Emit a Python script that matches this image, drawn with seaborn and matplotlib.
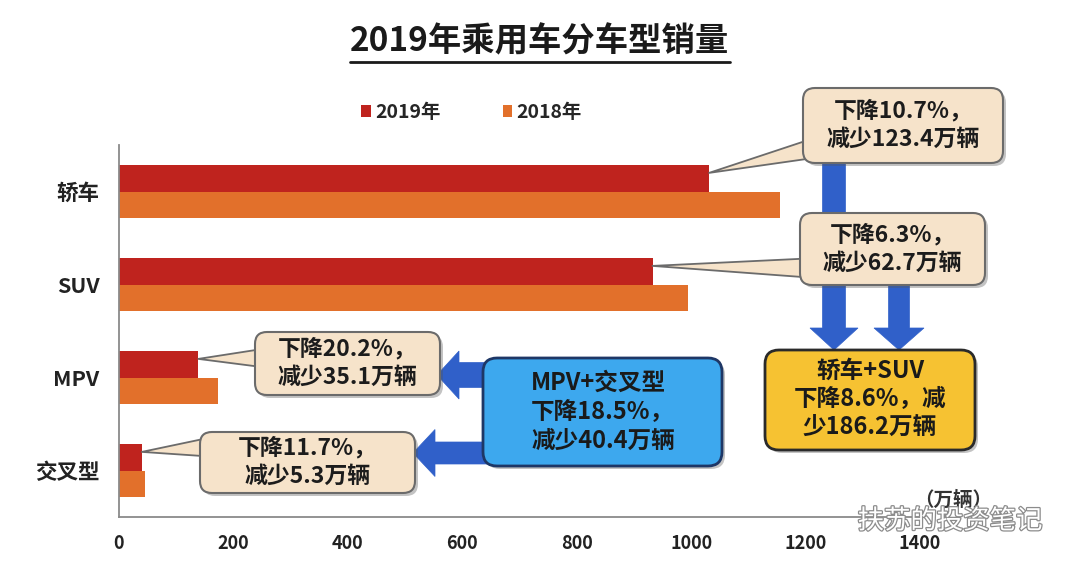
import matplotlib
matplotlib.use("Agg")
import matplotlib.pyplot as plt
import matplotlib.patheffects as pe
from matplotlib.patches import FancyBboxPatch, FancyArrow
from matplotlib.lines import Line2D
import seaborn as sns
import pandas as pd

# ---------------- data ----------------
categories = ["轿车", "SUV", "MPV", "交叉型"]
years = ["2019年", "2018年"]
sales_2019 = [1031.3, 932.5, 138.7, 40.0]
sales_2018 = [1154.7, 995.2, 173.8, 45.3]
x_ticks = [0, 200, 400, 600, 800, 1000, 1200, 1400]
callout_texts = ["下降10.7%，\n减少123.4万辆", "下降6.3%，\n减少62.7万辆",
                 "下降20.2%，\n减少35.1万辆", "下降11.7%，\n减少5.3万辆"]
blue_text = "MPV+交叉型\n下降18.5%，\n减少40.4万辆"
yellow_text = "轿车+SUV\n下降8.6%，减\n少186.2万辆"
title = "2019年乘用车分车型销量"
unit = "（万辆）"
watermark = "扶苏的投资笔记"

df = pd.DataFrame({
    "车型": categories * 2,
    "销量": sales_2019 + sales_2018,
    "年份": [years[0]] * 4 + [years[1]] * 4,
})

sns.set_theme(style="white")
plt.rcParams["font.family"] = ["Noto Sans CJK SC", "DejaVu Sans"]

W, H = 1080, 567
fig = plt.figure(figsize=(W / 100, H / 100), dpi=100)
ax = fig.add_axes([119 / W, 1 - 517 / H, (920 - 119) / W, (517 - 145) / H])

RED = "#BF231E"
ORANGE = "#E2702B"
sns.barplot(data=df, y="车型", x="销量", hue="年份", orient="h",
            palette=[RED, ORANGE], width=0.57, saturation=1, linewidth=0,
            edgecolor="none", ax=ax)

ax.set_xlim(0, 1400)
ax.set_ylim(3.5, -0.5)
ax.set_xlabel("")
ax.set_ylabel("")
ax.set_xticks(x_ticks)
ax.set_xticklabels([str(t) for t in x_ticks], fontsize=13, fontweight="bold", color="#222222")
ax.set_yticks(range(len(categories)))
ax.set_yticklabels(categories, fontsize=15.5, fontweight="bold", color="#222222")
ax.set_yticks([-0.5, 0.5, 1.5, 2.5, 3.5], minor=True)
ax.tick_params(axis="y", which="major", length=0, pad=14)
ax.tick_params(axis="y", which="minor", direction="in", length=6, color="#808080")
ax.tick_params(axis="x", which="major", direction="in", length=6, color="#808080", pad=12)
for s in ["top", "right"]:
    ax.spines[s].set_visible(False)
for s in ["left", "bottom"]:
    ax.spines[s].set_color("#8a8a8a")
    ax.spines[s].set_linewidth(1.3)

sns.move_legend(ax, "lower center", bbox_to_anchor=(0.44, 1.015), ncol=2, frameon=False,
                title=None, handlelength=0.5, handleheight=0.5, handletextpad=0.2,
                columnspacing=3.2, prop={"size": 14, "weight": "bold"})

# ---------------- helpers (pixel coords, y from top) ----------------
T = fig.dpi_scale_trans


def P(x, y):
    return (x / 100, (H - y) / 100)


def box(x0, y0, x1, y1, fc, ec, lw=1.5, r=0.12, z=3):
    sh = FancyBboxPatch(P(x0 + 3, y1 + 3), (x1 - x0) / 100, (y1 - y0) / 100,
                        boxstyle=f"round,pad=0,rounding_size={r}", transform=T,
                        fc="#555555", ec="none", alpha=0.35, zorder=z - 0.5)
    b = FancyBboxPatch(P(x0, y1), (x1 - x0) / 100, (y1 - y0) / 100,
                       boxstyle=f"round,pad=0,rounding_size={r}", transform=T,
                       fc=fc, ec=ec, lw=lw, zorder=z)
    fig.add_artist(sh)
    fig.add_artist(b)


def arrow(x0, y0, x1, y1, w, hw, hl, color="#3060C9"):
    a = FancyArrow(x0 / 100, (H - y0) / 100, (x1 - x0) / 100, -(y1 - y0) / 100,
                   width=w / 100, head_width=hw / 100, head_length=hl / 100,
                   length_includes_head=True, transform=T, fc=color, ec=color,
                   lw=0.5, zorder=2)
    fig.add_artist(a)


# ---------------- title ----------------
t = fig.text(0.5, 1 - 42 / H, title, ha="center", va="center", fontsize=24,
             fontweight="bold", color="#1a1a1a")
fig.canvas.draw()
bb = t.get_window_extent()
fig.add_artist(Line2D([bb.x0 / W, bb.x1 / W], [(bb.y0 - 3) / H, (bb.y0 - 3) / H],
                      transform=fig.transFigure, color="#1a1a1a", lw=2))

# ---------------- blue arrows ----------------
arrow(834, 160, 834, 350, 23, 48, 22)
arrow(899, 282, 899, 350, 21, 50, 22)
arrow(487, 375, 437, 375, 25, 48, 22)
arrow(487, 453, 413, 453, 22, 47, 22)

# ---------------- callouts ----------------
BEIGE = "#F6E3CA"
EDGE = "#6B6B6B"
callout_boxes = [(803, 88, 1003, 163), (800, 213, 985, 285),
                 (255, 332, 440, 395), (200, 432, 415, 493)]
wedge_base = [(815, 148), (812, 268), (267, 358), (212, 447)]
bar_vals = sales_2019
for i, ((x0, y0, x1, y1), (bx, by), txt) in enumerate(zip(callout_boxes, wedge_base, callout_texts)):
    ax.annotate("", xy=(bar_vals[i], i - 0.2), xycoords="data",
                xytext=(bx, H - by), textcoords="figure pixels",
                arrowprops=dict(arrowstyle="wedge,tail_width=0.7", fc=BEIGE, ec=EDGE,
                                lw=1.3, shrinkA=0, shrinkB=0, mutation_scale=20),
                annotation_clip=False)
    box(x0, y0, x1, y1, BEIGE, EDGE)
    cx, cy = (x0 + x1) / 2, (y0 + y1) / 2
    fig.text(cx / W, 1 - cy / H, txt,
             ha="center", va="center", fontsize=16.5, fontweight="bold",
             color="#1c1c1c", linespacing=1.3, zorder=5)

# blue summary box
box(483, 358, 722, 466, "#3DA8EE", "#1E3766", lw=2.0, r=0.14)
fig.text(603 / W, 1 - 412 / H, blue_text, ha="center", va="center", multialignment="left",
         fontsize=17, fontweight="bold", color="#1a1a1a", linespacing=1.25, zorder=5)

# yellow summary box
box(765, 350, 975, 450, "#F6C232", "#2a2a2a", lw=2.0, r=0.14)
fig.text(870 / W, 1 - 399 / H, yellow_text, ha="center", va="center", multialignment="center",
         fontsize=17, fontweight="bold", color="#1a1a1a", linespacing=1.2, zorder=5)

# ---------------- unit & watermark ----------------
fig.text(953 / W, 1 - 500 / H, unit, ha="center", va="center", fontsize=14,
         fontweight="bold", color="#333333", zorder=5)
wm = fig.text(950 / W, 1 - 521 / H, watermark, ha="center", va="center", fontsize=19,
              color="white", zorder=6)
wm.set_path_effects([pe.Stroke(linewidth=1.8, foreground="#8c8c8c"), pe.Normal()])

fig.savefig("out.png", dpi=100, facecolor="white")
